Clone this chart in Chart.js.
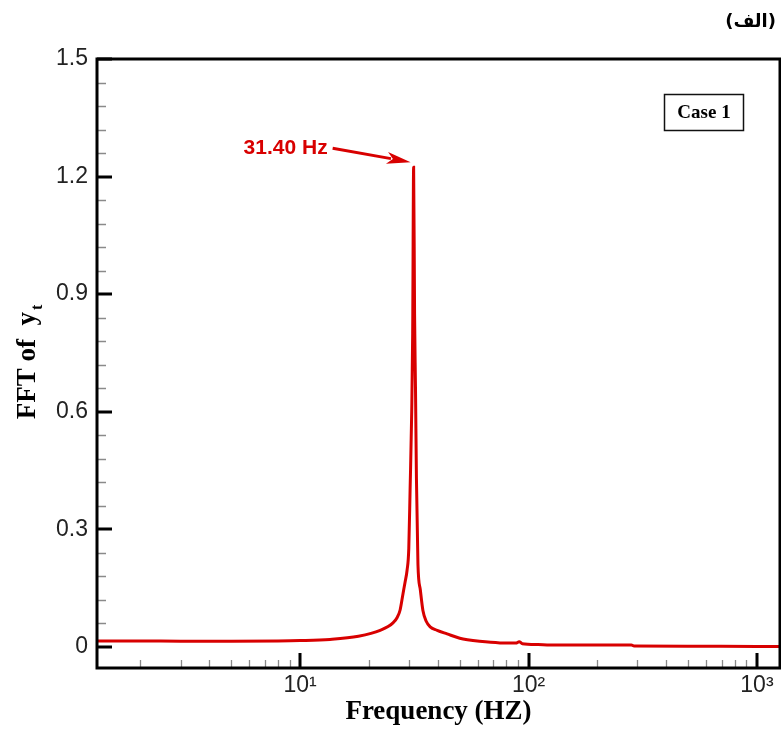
<!DOCTYPE html>
<html>
<head>
<meta charset="utf-8">
<script src="https://cdn.jsdelivr.net/npm/chart.js@4/dist/chart.umd.min.js"></script>
<style>
  html, body { margin: 0; padding: 0; background: #fff; }
  canvas { display: block; }
</style>
</head>
<body>
<canvas id="c" width="781" height="731"></canvas>
<script>
// ---- data ----
const FREQ = [1.29, 2, 3, 5, 8, 10, 13.5, 18, 22.4, 25.5, 26.6, 27.4, 28.2, 28.8, 29.4, 29.9, 30.3, 30.8, 31.1, 31.4,
              31.7, 32.0, 32.3, 32.8, 33.6, 34.5, 35.6, 37.1, 39.8, 44, 50, 54, 61, 75, 88, 91, 94,
              110, 124, 200, 282, 290, 500, 1000, 1262];
const FFT_YT = [0.015, 0.015, 0.0145, 0.0145, 0.015, 0.016, 0.019, 0.027, 0.042, 0.061, 0.075, 0.094, 0.135, 0.165, 0.196, 0.25, 0.40, 0.60, 0.80, 1.224,
                0.85, 0.656, 0.43, 0.21, 0.145, 0.092, 0.066, 0.051, 0.042, 0.033, 0.022, 0.018, 0.014, 0.010, 0.0095, 0.013, 0.008,
                0.006, 0.005, 0.005, 0.005, 0.002, 0.0015, 0.001, 0.001];
const X_TICKS = [10, 100, 1000];
const X_TICK_LABELS = ['10\u00B9', '10\u00B2', '10\u00B3'];
const X_MINOR = [2, 3, 4, 5, 6, 7, 8, 9, 20, 30, 40, 50, 60, 70, 80, 90, 200, 300, 400, 500, 600, 700, 800, 900];
const Y_TICKS = [0, 0.3, 0.6, 0.9, 1.2, 1.5];
const Y_TICK_LABELS = ['0', '0.3', '0.6', '0.9', '1.2', '1.5'];
const Y_MINOR = [0.06, 0.12, 0.18, 0.24, 0.36, 0.42, 0.48, 0.54, 0.66, 0.72, 0.78, 0.84,
                 0.96, 1.02, 1.08, 1.14, 1.26, 1.32, 1.38, 1.44];
const PEAK_FREQ = 31.4;
const PEAK_VALUE = 1.224;
const PEAK_LABEL = '31.40 Hz';
const CASE_LABEL = 'Case 1';
const X_TITLE = 'Frequency (HZ)';
const Y_TITLE = 'FFT of  y';
const Y_TITLE_SUB = 't';
const PANEL_LABEL = '(\u0627\u0644\u0641)';

const RED = '#d80000';

const decor = {
  id: 'decor',
  afterDatasetsDraw(chart) {
    const ctx = chart.ctx;
    const a = chart.chartArea;
    const xs = chart.scales.x, ys = chart.scales.y;
    ctx.save();
    // minor ticks
    ctx.strokeStyle = '#8a8a8a';
    ctx.lineWidth = 1.3;
    ctx.beginPath();
    X_MINOR.forEach(v => {
      const px = Math.round(xs.getPixelForValue(v)) + 0.5;
      if (px > a.left + 2 && px < a.right - 2) { ctx.moveTo(px, a.bottom); ctx.lineTo(px, a.bottom - 8); }
    });
    Y_MINOR.forEach(v => {
      const py = Math.round(ys.getPixelForValue(v)) + 0.5;
      ctx.moveTo(a.left, py); ctx.lineTo(a.left + 9, py);
    });
    ctx.stroke();
    // major ticks
    ctx.strokeStyle = '#000';
    ctx.lineWidth = 3;
    ctx.beginPath();
    X_TICKS.forEach(v => {
      const px = Math.round(xs.getPixelForValue(v));
      ctx.moveTo(px, a.bottom); ctx.lineTo(px, a.bottom - 15);
    });
    Y_TICKS.forEach(v => {
      const py = Math.round(ys.getPixelForValue(v));
      ctx.moveTo(a.left, py); ctx.lineTo(a.left + 15, py);
    });
    ctx.stroke();
    // frame
    ctx.lineWidth = 3;
    ctx.strokeStyle = '#000';
    ctx.strokeRect(a.left, a.top, a.right - a.left, a.bottom - a.top);

    // axis titles
    ctx.fillStyle = '#000';
    ctx.font = 'bold 27px "Liberation Serif", "Times New Roman", serif';
    ctx.textAlign = 'center';
    ctx.textBaseline = 'alphabetic';
    ctx.fillText(X_TITLE, (a.left + a.right) / 2, 719);

    ctx.save();
    ctx.translate(35, 362);
    ctx.rotate(-Math.PI / 2);
    ctx.font = 'bold 27px "Liberation Serif", "Times New Roman", serif';
    const w1 = ctx.measureText(Y_TITLE).width;
    ctx.font = 'bold 16px "Liberation Serif", "Times New Roman", serif';
    const w2 = ctx.measureText(Y_TITLE_SUB).width;
    const start = -(w1 + w2 + 2) / 2;
    ctx.textAlign = 'left';
    ctx.font = 'bold 27px "Liberation Serif", "Times New Roman", serif';
    ctx.fillText(Y_TITLE, start, 0);
    ctx.font = 'bold 16px "Liberation Serif", "Times New Roman", serif';
    ctx.fillText(Y_TITLE_SUB, start + w1 + 2, 7);
    ctx.restore();

    // case box
    ctx.lineWidth = 1.5;
    ctx.strokeStyle = '#111';
    ctx.strokeRect(664.5, 94.5, 79, 36);
    ctx.font = 'bold 19px "Liberation Serif", "Times New Roman", serif';
    ctx.textAlign = 'center';
    ctx.textBaseline = 'middle';
    ctx.fillStyle = '#000';
    ctx.fillText(CASE_LABEL, 704, 113);

    // panel label
    ctx.font = 'bold 18px "DejaVu Sans", sans-serif';
    ctx.direction = 'rtl';
    ctx.textAlign = 'right';
    ctx.textBaseline = 'middle';
    ctx.fillText(PANEL_LABEL, 776, 22);
    ctx.direction = 'ltr';

    // peak annotation
    const tipX = xs.getPixelForValue(PEAK_FREQ) - 3;
    const tipY = ys.getPixelForValue(PEAK_VALUE) - 5;
    const sx = tipX - 78, sy = tipY - 14;
    ctx.strokeStyle = RED;
    ctx.fillStyle = RED;
    ctx.lineWidth = 3;
    const ang = Math.atan2(tipY - sy, tipX - sx);
    const headLen = 24, headHalf = 6;
    const bx = tipX - headLen * Math.cos(ang), by = tipY - headLen * Math.sin(ang);
    ctx.beginPath();
    ctx.moveTo(sx, sy);
    ctx.lineTo(bx + 4 * Math.cos(ang), by + 4 * Math.sin(ang));
    ctx.stroke();
    ctx.beginPath();
    ctx.moveTo(tipX, tipY);
    ctx.lineTo(bx - headHalf * Math.sin(ang), by + headHalf * Math.cos(ang));
    ctx.lineTo(bx + 6 * Math.cos(ang), by + 6 * Math.sin(ang));
    ctx.lineTo(bx + headHalf * Math.sin(ang), by - headHalf * Math.cos(ang));
    ctx.closePath();
    ctx.fill();
    ctx.font = 'bold 21px "Liberation Sans", Arial, sans-serif';
    ctx.textAlign = 'right';
    ctx.textBaseline = 'middle';
    ctx.fillText(PEAK_LABEL, sx - 5, sy);
    ctx.restore();
  }
};

new Chart(document.getElementById('c'), {
  type: 'scatter',
  data: {
    datasets: [{
      data: FREQ.map((f, i) => ({ x: f, y: FFT_YT[i] })),
      showLine: true,
      borderColor: RED,
      borderWidth: 3,
      pointRadius: 0,
      cubicInterpolationMode: 'monotone',
      fill: false
    }]
  },
  options: {
    responsive: false,
    devicePixelRatio: 1,
    animation: false,
    layout: { padding: { left: 0, top: 59, right: 1, bottom: 0 } },
    plugins: { legend: { display: false }, tooltip: { enabled: false } },
    scales: {
      x: {
        type: 'logarithmic',
        min: 1.29,
        max: 1262,
        afterFit(s) { s.height = 63; },
        afterBuildTicks(s) { s.ticks = X_TICKS.map(v => ({ value: v, major: true })); },
        grid: { display: false, drawTicks: false },
        border: { display: false },
        ticks: {
          padding: 4,
          autoSkip: false,
          maxRotation: 0,
          color: '#222',
          font: { family: '"Liberation Sans", Arial, sans-serif', size: 23 },
          callback: (v, i) => X_TICK_LABELS[i]
        }
      },
      y: {
        type: 'linear',
        min: -0.054,
        max: 1.5,
        afterFit(s) { s.width = 97; },
        afterBuildTicks(s) { s.ticks = Y_TICKS.map(v => ({ value: v })); },
        grid: { display: false, drawTicks: false },
        border: { display: false },
        ticks: {
          padding: 9,
          color: '#222',
          font: { family: '"Liberation Sans", Arial, sans-serif', size: 23 },
          callback: (v, i) => Y_TICK_LABELS[i]
        }
      }
    }
  },
  plugins: [decor]
});
</script>
</body>
</html>
